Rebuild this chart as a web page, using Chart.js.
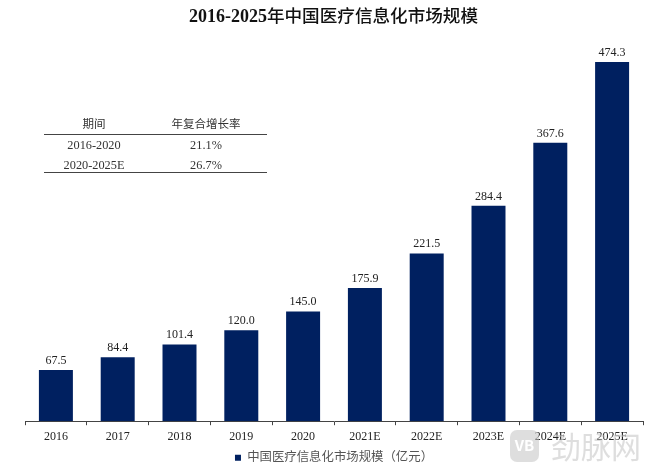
<!DOCTYPE html>
<html><head><meta charset="utf-8">
<style>html,body{margin:0;padding:0;background:#fff}#w{width:650px;height:472px;position:relative}</style>
<script src="https://cdn.jsdelivr.net/npm/chart.js@4"></script>
</head><body><div id="w"><canvas id="c" width="650" height="472"></canvas></div>
<script>
const categories=["2016","2017","2018","2019","2020","2021E","2022E","2023E","2024E","2025E"];
const values=[67.5,84.4,101.4,120.0,145.0,175.9,221.5,284.4,367.6,474.3];
const seriesName="中国医疗信息化市场规模（亿元）";
const titleParts=["2016-2025","年中国医疗信息化市场规模"];
const tableHead=["期间","年复合增长率"];
const tableRows=[["2016-2020","21.1%"],["2020-2025E","26.7%"]];
const watermark="劲脉网";
const FONT='"Liberation Serif","Noto Sans CJK SC",serif';
const NAVY="#002060";
const extras={id:"extras",
 afterDatasetsDraw(ch){
  const c=ch.ctx,m=ch.getDatasetMeta(0);
  c.save();c.textBaseline="alphabetic";
  // title: bold latin run followed by a lighter CJK run
  c.fillStyle="#111";c.textAlign="left";
  const f0='bold 18px "Liberation Serif"',f1='500 17.6px "Noto Sans CJK SC"';
  c.font=f0;const w0=c.measureText(titleParts[0]).width;
  c.font=f1;const w1=c.measureText(titleParts[1]).width;
  const tx=333.5-(w0+w1)/2;
  c.font=f0;c.fillText(titleParts[0],tx,22);
  c.font=f1;c.fillText(titleParts[1],tx+w0,22);
  c.textAlign="center";c.fillStyle="#222";c.font="12px "+FONT;
  m.data.forEach((b,i)=>c.fillText(values[i].toFixed(1),b.x,b.y-6));
  // growth table
  const cols=[94,206];
  c.fillStyle="#333";
  tableHead.forEach((t,i)=>{c.font="11.5px "+FONT;c.fillText(t,cols[i],128);});
  c.font="12.3px "+FONT;
  tableRows.forEach((r,j)=>r.forEach((t,i)=>c.fillText(t,cols[i],149+j*19.5)));
  c.strokeStyle="#444";c.lineWidth=1;
  [134.5,172.5].forEach(y=>{c.beginPath();c.moveTo(44,y);c.lineTo(267,y);c.stroke();});
  // watermark
  c.fillStyle="rgba(195,195,195,0.55)";
  c.beginPath();c.roundRect(510,430,29,32,7);c.fill();
  c.fillStyle="#fff";c.font='bold 15px "Noto Sans CJK SC"';c.fillText("VB",524.5,451);
  c.fillStyle="rgba(195,195,195,0.55)";c.font='30px "Noto Sans CJK SC"';c.textAlign="left";
  c.fillText(watermark,551,458);
  c.restore();
 }};
new Chart(document.getElementById("c"),{
 type:"bar",
 data:{labels:categories,datasets:[{label:seriesName,data:values,backgroundColor:NAVY,categoryPercentage:0.55,barPercentage:1}]},
 plugins:[extras],
 options:{responsive:false,animation:false,
  devicePixelRatio:1,
  layout:{padding:{left:25,right:7,top:42.5,bottom:-2}},
  plugins:{
   title:{display:false},
   legend:{position:"bottom",labels:{color:"#555",font:{family:FONT,size:12.4},boxWidth:6,boxHeight:6,padding:4,usePointStyle:true,pointStyle:"rect"}},
   tooltip:{enabled:false}
  },
  scales:{
   x:{grid:{drawOnChartArea:false,color:"#444",tickLength:4,tickColor:"#444"},border:{color:"#444",width:1},
      ticks:{color:"#222",font:{family:FONT,size:12},maxRotation:0,autoSkip:false,padding:4}},
   y:{display:false,min:0,max:500}
  }
 }
});
</script></body></html>
